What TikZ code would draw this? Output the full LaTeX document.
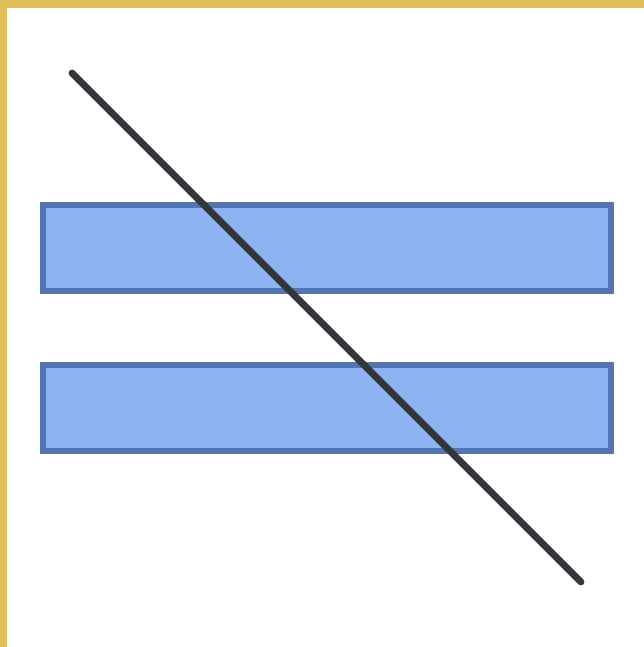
\documentclass[tikz,border=0pt]{standalone}
\usetikzlibrary{positioning}
\definecolor{framegold}{RGB}{226,190,88}
\definecolor{barfill}{RGB}{141,180,240}
\definecolor{barline}{RGB}{82,116,176}
\definecolor{slashgray}{RGB}{52,54,62}
\tikzset{
  bar/.style={
    draw=barline,
    fill=barfill,
    line width=0.3cm,
    minimum width=28.4cm,
    minimum height=4.3cm,
    inner sep=0pt
  },
  slash/.style={line width=0.34cm, draw=slashgray, line cap=round}
}

\begin{document}
\begin{tikzpicture}[x=0.05cm, y=-0.05cm]
  % page and gold frame on top and left
  \fill[framegold] (0,0) rectangle (644,647);
  \fill[white] (7,8) rectangle (644,647);
  \useasboundingbox (0,0) rectangle (644,647);
  % the two bars
  \node[bar] (upper) at (327,248) {};
  \node[bar] (lower) at (327,408) {};
  % the crossing stroke
  \coordinate (start) at (72,73);
  \coordinate (stop) at (581,582);
  \draw[slash] (start) -- (stop);
\end{tikzpicture}
\end{document}
